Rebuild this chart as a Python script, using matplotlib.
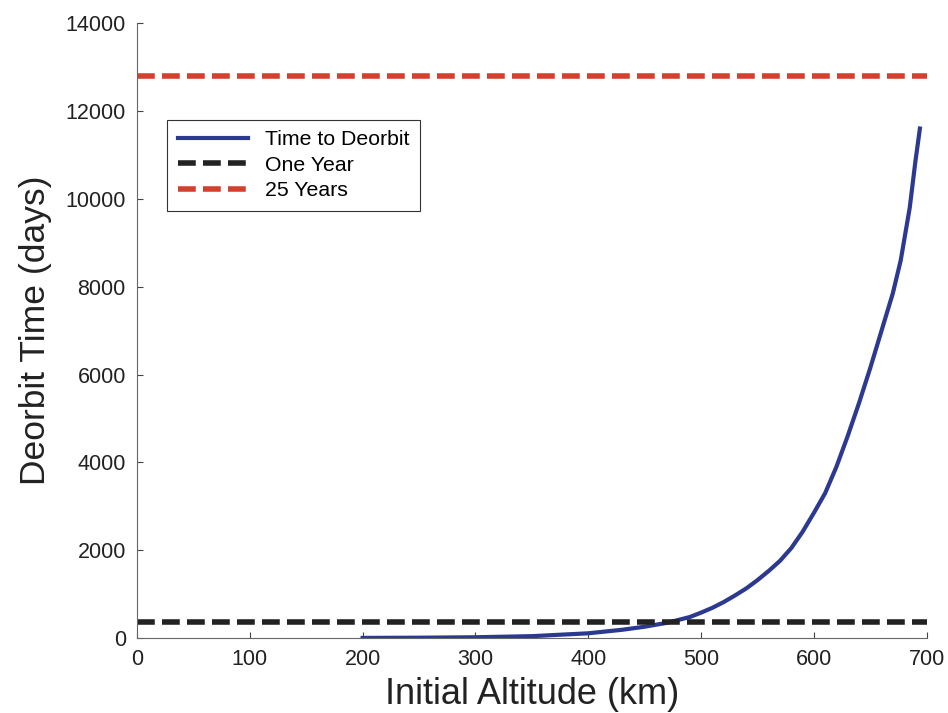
import matplotlib
matplotlib.use("Agg")
import matplotlib.pyplot as plt

plt.rcParams['font.family'] = ['Liberation Sans', 'DejaVu Sans']

altitude = [200, 250, 300, 350, 400, 430, 450, 470, 490, 500, 510, 520, 530,
            540, 550, 560, 570, 580, 590, 600, 610, 620, 630, 640, 650, 660,
            670, 677, 685, 690, 694]
deorbit_days = [5, 10, 20, 45, 110, 190, 260, 350, 480, 580, 690, 820, 970,
                1130, 1320, 1530, 1760, 2050, 2420, 2850, 3300, 3900, 4600,
                5350, 6150, 7000, 7850, 8600, 9800, 10850, 11600]
one_year = 365
twentyfive_years = 12800
x_range = [0, 700]

fig = plt.figure(figsize=(9.48, 7.13), dpi=100)
ax = fig.add_axes([0.1445, 0.105, 0.833, 0.8626])

ax.plot(altitude, deorbit_days, color='#2b3990', lw=3, label='Time to Deorbit')
ax.plot(x_range, [one_year, one_year], color='#222222', lw=4,
        dashes=(3.2, 1.3), label='One Year')
ax.plot(x_range, [twentyfive_years, twentyfive_years], color='#d5402e', lw=4,
        dashes=(3.2, 1.3), label='25 Years')

ax.set_xlim(0, 700)
ax.set_ylim(0, 14000)
ax.set_xticks(range(0, 701, 100))
ax.set_yticks(range(0, 14001, 2000))
for s in ['top', 'right']:
    ax.spines[s].set_visible(False)
for s in ['left', 'bottom']:
    ax.spines[s].set_color('#666666')
    ax.spines[s].set_linewidth(0.8)
ax.tick_params(direction='in', length=4, width=0.8, color='#444444',
               labelsize=15.5, labelcolor='#222222', pad=8)

ax.set_xlabel('Initial Altitude (km)', fontsize=26, color='#222222', labelpad=5)
ax.set_ylabel('Deorbit Time (days)', fontsize=25.5, color='#222222', labelpad=10)

leg = ax.legend(loc='upper left', bbox_to_anchor=(0.025, 0.86), fontsize=15.3,
                fancybox=False, framealpha=1, edgecolor='#333333',
                handlelength=3.3, borderpad=0.5, labelspacing=0.3)
leg.get_frame().set_linewidth(0.8)

fig.savefig('out.png', dpi=100)
